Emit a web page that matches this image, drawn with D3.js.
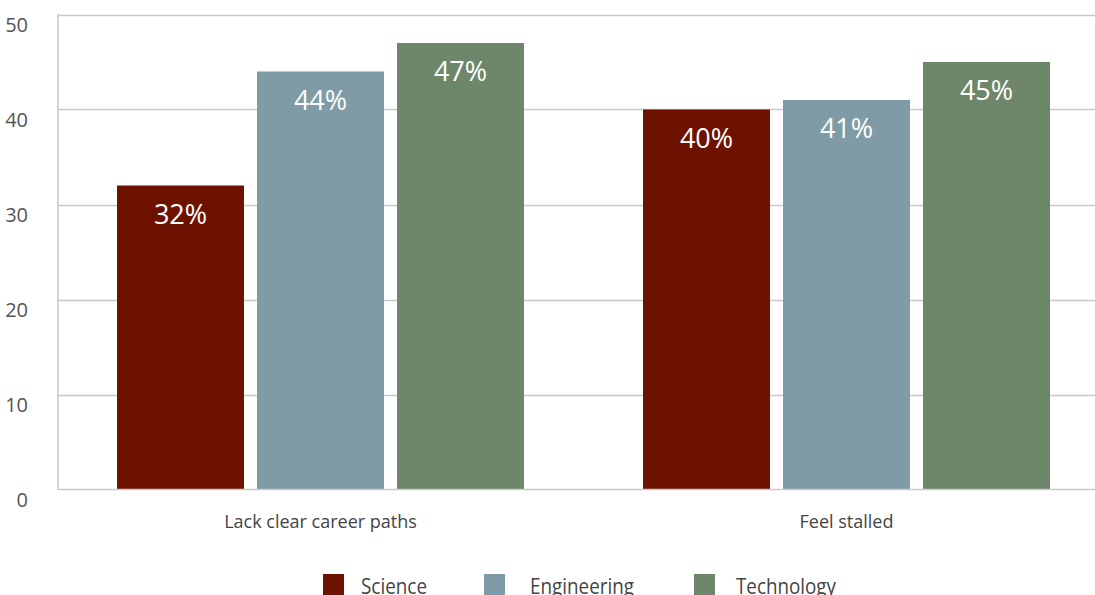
<!DOCTYPE html>
<html>
<head>
<meta charset="utf-8">
<script src="https://cdn.jsdelivr.net/npm/d3@7/dist/d3.min.js"></script>
<style>
  html, body { margin: 0; padding: 0; background: #fff; }
  svg { display: block; font-family: "Open Sans", "Noto Sans", sans-serif; }
</style>
</head>
<body>
<svg id="chart" width="1095" height="595"></svg>
<script>
const categories = ["Lack clear career paths", "Feel stalled"];
const seriesNames = ["Science", "Engineering", "Technology"];
const science = [32, 40];
const engineering = [44, 41];
const technology = [47, 45];
const yTicks = [0, 10, 20, 30, 40, 50];
const colors = ["#6e1200", "#7e9ba6", "#6e866a"];

const seriesValues = [science, engineering, technology];

const svg = d3.select("#chart");
const W = 1095;

const x0 = d3.scaleBand().domain(categories).range([57.5, 1109.5]).paddingInner(0).paddingOuter(0);
const x1 = d3.scaleBand().domain(seriesNames).range([59.5, x0.bandwidth() - 59.5]).paddingInner(13 / 140).paddingOuter(0);
const y = d3.scaleLinear().domain([0, 50]).range([489.5, 14.5]);

// horizontal gridlines
svg.append("g").selectAll("line").data(yTicks.filter(t => t > 0)).join("line")
  .attr("x1", 58).attr("x2", W)
  .attr("y1", d => Math.round(y(d)) + 0.5).attr("y2", d => Math.round(y(d)) + 0.5)
  .attr("stroke", "#c9c9c9").attr("stroke-width", 1.5);

// y tick labels
svg.append("g").selectAll("text").data(yTicks).join("text")
  .attr("x", 28).attr("y", d => y(d) + 17)
  .attr("text-anchor", "end")
  .attr("font-size", 20).attr("fill", "#555")
  .text(d => d);

// bars with value labels
const groups = svg.append("g").selectAll("g").data(categories).join("g")
  .attr("transform", c => `translate(${x0(c)},0)`);

groups.each(function (c, ci) {
  const g = d3.select(this);
  seriesNames.forEach((s, si) => {
    const v = seriesValues[si][ci];
    g.append("rect")
      .attr("x", x1(s)).attr("y", y(v))
      .attr("width", x1.bandwidth()).attr("height", y(0) - y(v))
      .attr("fill", colors[si]);
    g.append("text")
      .attr("x", x1(s) + x1.bandwidth() / 2).attr("y", y(v) + 38)
      .attr("text-anchor", "middle")
      .attr("font-size", 27).attr("fill", "#fff")
      .text(v + "%");
  });
});

// axis lines
svg.append("line").attr("x1", 58).attr("x2", 58).attr("y1", 14).attr("y2", 490)
  .attr("stroke", "#c9c9c9").attr("stroke-width", 1.5);
svg.append("line").attr("x1", 58).attr("x2", W).attr("y1", 489.5).attr("y2", 489.5)
  .attr("stroke", "#c9c9c9").attr("stroke-width", 1.5);

// category labels
svg.append("g").selectAll("text").data(categories).join("text")
  .attr("x", c => x0(c) + x0.bandwidth() / 2).attr("y", 528)
  .attr("text-anchor", "middle")
  .attr("font-size", 18).attr("fill", "#444")
  .text(c => c);

// legend
const legendX = [323, 484, 694];
const legendTextW = [66, 104, 100];
const legend = svg.append("g").selectAll("g").data(seriesNames).join("g")
  .attr("transform", (d, i) => `translate(${legendX[i]},574)`);
legend.append("rect").attr("width", 21).attr("height", 21).attr("fill", (d, i) => colors[i]);
legend.append("text").attr("x", (d, i) => [38, 46, 42][i]).attr("y", 20)
  .attr("font-size", 22).attr("fill", "#444")
  .attr("textLength", (d, i) => legendTextW[i]).attr("lengthAdjust", "spacingAndGlyphs")
  .text(d => d);
</script>
</body>
</html>
